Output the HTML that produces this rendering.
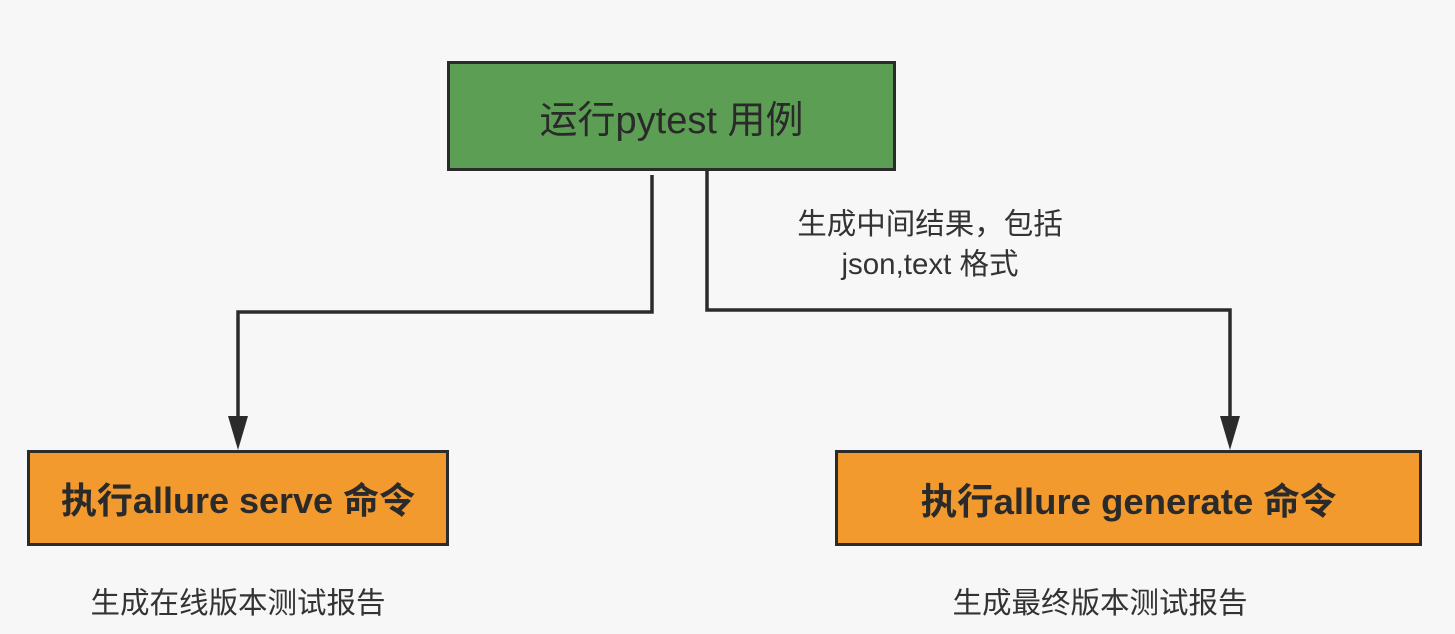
<!DOCTYPE html>
<html><head><meta charset="utf-8"><style>
body{margin:0;width:1455px;height:634px;background:#f7f7f7;overflow:hidden;font-family:"Liberation Sans","Noto Sans CJK SC",sans-serif;position:relative}
.b{position:absolute;box-sizing:border-box;border:3px solid #2b2b2b;display:flex;align-items:center;justify-content:center;color:#2a2a2a}
.t{position:absolute;color:#333;font-size:29.5px;text-align:center;white-space:nowrap}
</style></head><body>
<svg width="1455" height="634" style="position:absolute;left:0;top:0">
<g stroke="#2b2b2b" stroke-width="3.5" fill="none">
<polyline points="652,175 652,312 238,312 238,420"/>
<polyline points="707,170 707,310 1230,310 1230,420"/>
</g>
<g fill="#2b2b2b">
<polygon points="228,416 248,416 238,450"/>
<polygon points="1220,416 1240,416 1230,450"/>
</g>
</svg>
<div class="b" style="left:447px;top:61px;width:449px;height:110px;background:#5d9e55;font-size:38px">运行pytest 用例</div>
<div class="b" style="left:27px;top:450px;width:422px;height:96px;background:#f29a2e;font-size:36px;font-weight:bold">执行allure serve 命令</div>
<div class="b" style="left:835px;top:450px;width:587px;height:96px;background:#f29a2e;font-size:36.5px;font-weight:bold">执行allure generate 命令</div>
<div class="t" style="left:730px;top:205px;width:400px;line-height:40px">生成中间结果，包括<br>json,text 格式</div>
<div class="t" style="left:38px;top:580px;width:400px">生成在线版本测试报告</div>
<div class="t" style="left:900px;top:580px;width:400px">生成最终版本测试报告</div>
</body></html>
